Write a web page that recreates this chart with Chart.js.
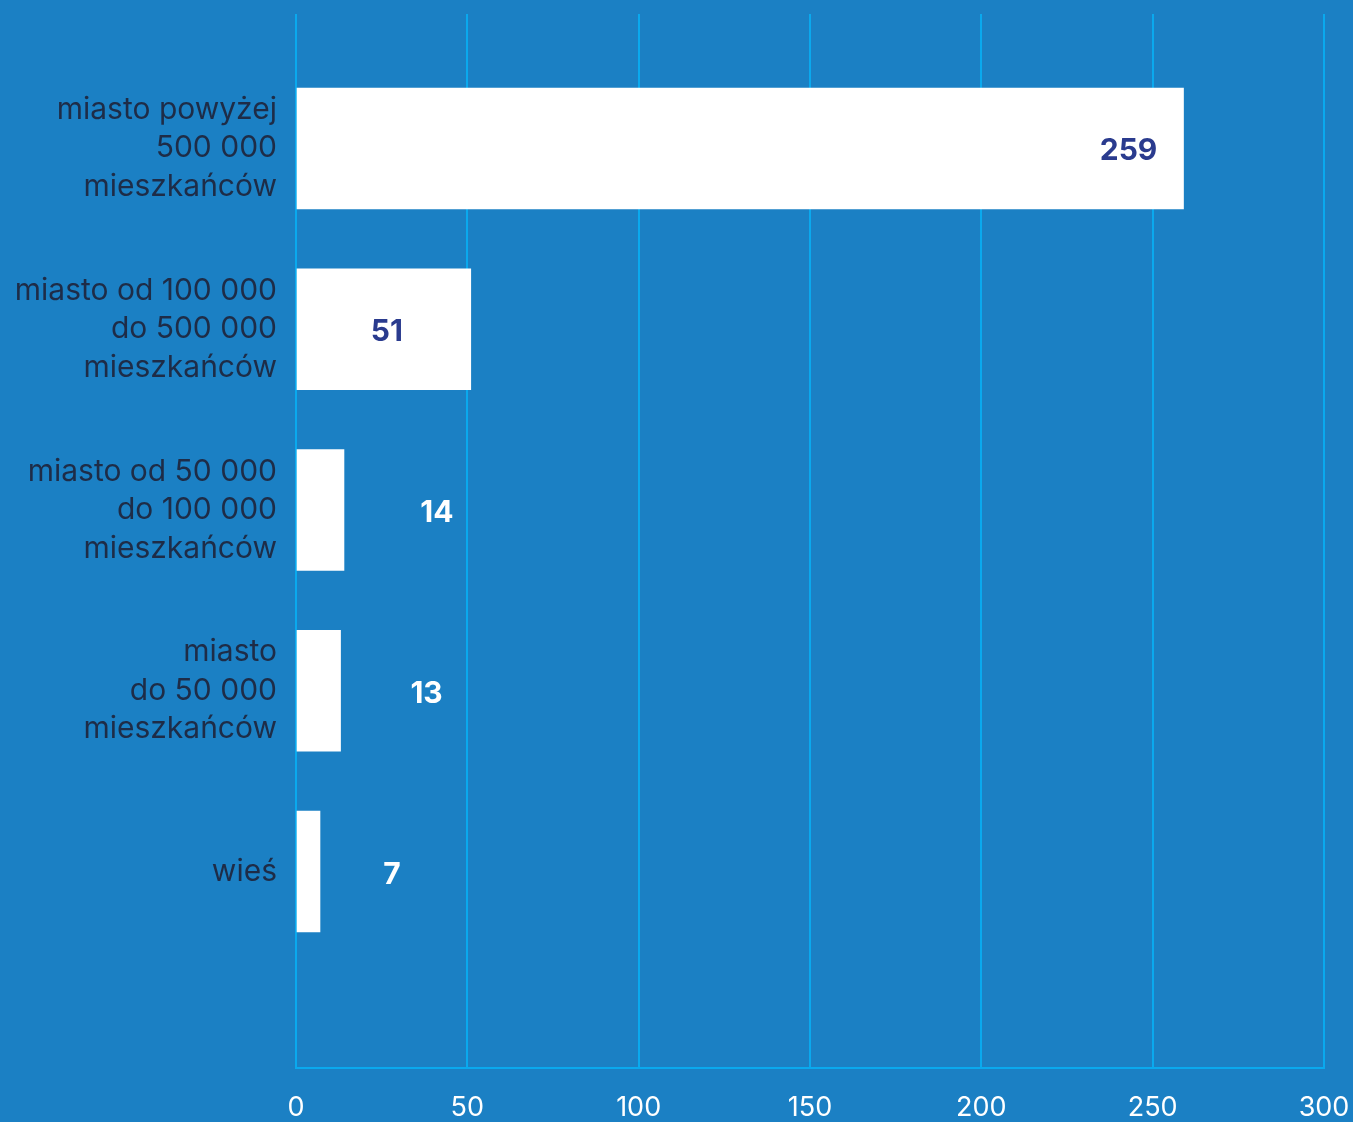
<!DOCTYPE html>
<html lang="pl">
<head>
<meta charset="utf-8">
<title>Miejsce zamieszkania</title>
<script src="https://cdn.jsdelivr.net/npm/chart.js@4/dist/chart.umd.min.js"></script>
<style>
  html, body { margin: 0; padding: 0; background: #1b80c4; }
  #wrap { width: 1353px; height: 1122px; }
</style>
</head>
<body>
<div id="wrap"><canvas id="chart" width="1353" height="1122"></canvas></div>
<script>
// Categories (one entry per bar, top to bottom)
const categories = [
  ['miasto powyżej', '500 000', 'mieszkańców'],
  ['miasto od 100 000', 'do 500 000', 'mieszkańców'],
  ['miasto od 50 000', 'do 100 000', 'mieszkańców'],
  ['miasto', 'do 50 000', 'mieszkańców'],
  ['wieś']
];
// Number of respondents per place of residence
const counts = [259, 51, 14, 13, 7];
// Horizontal axis ticks
const xTicks = [0, 50, 100, 150, 200, 250, 300];

const BG = '#1b80c4';
const GRID = '#0aa9ee';
const LABEL_DARK = '#1e2c47';
const VALUE_DARK = '#2a3b8e';

// Value label placement relative to the bar end (px) and colour
const valueLabelStyle = [
  { dx: -55, color: VALUE_DARK },
  { dx: -84, color: VALUE_DARK },
  { dx: 93, color: '#ffffff' },
  { dx: 86, color: '#ffffff' },
  { dx: 72, color: '#ffffff' }
];

const background = {
  id: 'background',
  beforeDraw(chart) {
    const { ctx } = chart;
    ctx.save();
    ctx.fillStyle = BG;
    ctx.fillRect(0, 0, chart.width, chart.height);
    ctx.restore();
  }
};

const valueLabels = {
  id: 'valueLabels',
  afterDatasetsDraw(chart) {
    const { ctx } = chart;
    const meta = chart.getDatasetMeta(0);
    ctx.save();
    ctx.font = '700 30px Inter, "Noto Sans", sans-serif';
    ctx.textAlign = 'center';
    ctx.textBaseline = 'middle';
    meta.data.forEach((bar, i) => {
      const st = valueLabelStyle[i];
      ctx.fillStyle = st.color;
      ctx.fillText(String(counts[i]), bar.x + st.dx, bar.y + 3);
    });
    ctx.restore();
  }
};

new Chart(document.getElementById('chart'), {
  type: 'bar',
  data: {
    datasets: [{
      data: counts.map((v, i) => ({ x: v, y: i })),
      backgroundColor: '#ffffff',
      borderWidth: 0,
      barThickness: 121
    }]
  },
  options: {
    indexAxis: 'y',
    responsive: false,
    animation: false,
    events: [],
    layout: { padding: { top: 14, right: 29, left: 0, bottom: 0 } },
    plugins: { legend: { display: false }, tooltip: { enabled: false } },
    scales: {
      x: {
        type: 'linear',
        position: 'bottom',
        min: 0,
        max: 300,
        afterBuildTicks(scale) { scale.ticks = xTicks.map(v => ({ value: v })); },
        afterFit(scale) {
          scale.height = 54;
          scale.paddingLeft = 0;
          scale.paddingRight = 0;
        },
        grid: { color: GRID, lineWidth: 2, drawTicks: false },
        border: { color: GRID, width: 2 },
        ticks: {
          color: '#ffffff',
          padding: 24,
          maxRotation: 0,
          font: { family: 'Inter, "Noto Sans", sans-serif', size: 27 }
        }
      },
      y: {
        type: 'linear',
        reverse: true,
        offset: false,
        bounds: 'data',
        min: -0.744,
        max: 5.087,
        afterBuildTicks(scale) { scale.ticks = categories.map((c, i) => ({ value: i })); },
        afterFit(scale) {
          scale.width = 296;
          scale.paddingTop = 0;
          scale.paddingBottom = 0;
        },
        grid: { display: false, drawTicks: false, offset: false },
        border: { display: false },
        ticks: {
          color: LABEL_DARK,
          padding: 19,
          callback: (v) => categories[v] || '',
          font: { family: 'Inter, "Noto Sans", sans-serif', size: 30, lineHeight: '38.5px' }
        }
      }
    }
  },
  plugins: [background, valueLabels]
});
</script>
</body>
</html>
